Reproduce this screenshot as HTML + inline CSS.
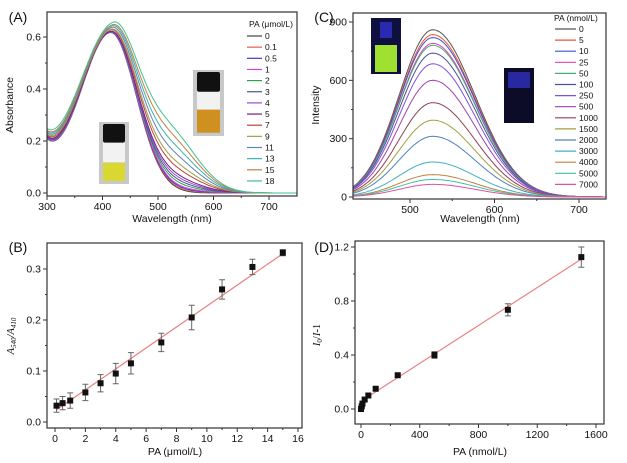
<!DOCTYPE html>
<html><head><meta charset="utf-8">
<style>
body{margin:0;background:#fff;}
svg{display:block;font-family:"Liberation Sans",Arial,sans-serif;}
text{fill:#111;}
</style></head>
<body>
<svg id="fig" width="627" height="463" viewBox="0 0 627 463" xmlns="http://www.w3.org/2000/svg">
<g id="pA"></g>
<g id="pB"></g>
<g id="pC"></g>
<g id="pD"></g>
</svg>
<script>
// Panel A data
const aConc = ["0","0.1","0.5","1","2","3","4","5","7","9","11","13","15","18"];
const aPeak = [0.615,0.615,0.612,0.612,0.613,0.612,0.612,0.612,0.615,0.615,0.618,0.62,0.62,0.625];
const aBand = [0,0.005,0.01,0.015,0.025,0.035,0.045,0.055,0.08,0.1,0.13,0.16,0.19,0.22];
const aColors = ["#444","#e0604a","#3a3ad0","#e040e0","#30a050","#505090","#9050d0","#702080","#c04040","#a0a040","#6080c0","#40b0b0","#c08040","#40c090"];
const aXTicks = [300,400,500,600,700];
const aYTicks = [0.0,0.2,0.4,0.6];
// Panel B data
const bX = [0.1,0.5,1,2,3,4,5,7,9,11,13,15];
const bY = [0.032,0.037,0.042,0.058,0.076,0.095,0.115,0.156,0.205,0.26,0.304,0.332];
const bErr = [0.013,0.013,0.015,0.016,0.017,0.02,0.021,0.018,0.024,0.019,0.015,0.006];
const bFit = [[0.1,0.024],[15,0.33]];
const bXTicks = [0,2,4,6,8,10,12,14,16];
const bYTicks = [0.0,0.1,0.2,0.3];
// Panel C data
const cConc = ["0","5","10","25","50","100","250","500","1000","1500","2000","3000","4000","5000","7000"];
const cPeak = [860,835,820,790,780,740,685,600,485,395,312,180,115,90,65];
const cColors = ["#555","#f05030","#4050d0","#e040c0","#40b070","#505090","#8050e0","#a040b0","#904050","#a0a040","#5080c0","#40b0c0","#c08040","#40c0a0","#e050a0"];
const cXTicks = [500,600,700];
const cYTicks = [0,300,600,900];
// Panel D data
const dX = [0,5,10,25,50,100,250,500,1000,1500];
const dY = [0,0.02,0.04,0.07,0.1,0.15,0.25,0.4,0.735,1.125];
const dErr = [0.01,0.01,0.01,0.01,0.01,0.01,0.01,0.025,0.045,0.075];
const dFit = [[25,0.075],[1500,1.11]];
const dXTicks = [0,400,800,1200,1600];
const dYTicks = [0.0,0.4,0.8,1.2];

const NS="http://www.w3.org/2000/svg";
function mk(parent,tag,attrs,txt){const e=document.createElementNS(NS,tag);for(const k in attrs)e.setAttribute(k,attrs[k]);if(txt!==undefined)e.textContent=txt;parent.appendChild(e);return e;}
function lin(d0,d1,r0,r1){return v=>r0+(v-d0)*(r1-r0)/(d1-d0);}

function axes(g,L,R,T,B,sx,sy,xt,yt,xfmt,yfmt){
  const box=mk(g,'rect',{x:L,y:T,width:R-L,height:B-T,fill:'none',stroke:'#333','stroke-width':1.2});
  
  
  xt.forEach(v=>{const x=sx(v);
    const t=mk(g,'line',{x1:x,x2:x,y1:B,y2:B+4,stroke:'#333'});
    
    const l=mk(g,'text',{x:x,y:B+14,'font-size':10.5,'text-anchor':'middle'},xfmt(v));
    });
  yt.forEach(v=>{const y=sy(v);
    const t=mk(g,'line',{x1:L-4,x2:L,y1:y,y2:y,stroke:'#333'});
    
    const l=mk(g,'text',{x:L-6,y:y+3.5,'font-size':10.5,'text-anchor':'end'},yfmt(v));
    });
  for(let i=0;i<xt.length-1;i++){const v=(xt[i]+xt[i+1])/2,x=sx(v);if(x<R){const m=mk(g,'line',{x1:x,x2:x,y1:B,y2:B+2,stroke:'#333'});}}
  for(let i=0;i<yt.length-1;i++){const v=(yt[i]+yt[i+1])/2,y=sy(v);const m=mk(g,'line',{x1:L-2,x2:L,y1:y,y2:y,stroke:'#333'});}
}
function label(g,x,y,s,name,rot,size){const a={x:x,y:y,'font-size':size||10.5,'text-anchor':'middle'};if(rot)a.transform=`rotate(-90 ${x} ${y})`;const t=mk(g,'text',a,s);return t;}
function vial(g,x,y,w,h,cap,body,liquid,liqTop,name){
  const gg=mk(g,'g',{});
  mk(gg,'rect',{x:x,y:y,width:w,height:h,fill:body});
  mk(gg,'rect',{x:x+4,y:y+h*0.3,width:w-8,height:h*0.35,fill:'#f2f2f2'});
  mk(gg,'rect',{x:x+4,y:y+2,width:w-8,height:h*0.3,fill:cap,rx:2});
  mk(gg,'rect',{x:x+4,y:y+h*liqTop,width:w-8,height:h*(0.95-liqTop),fill:liquid});
}

// ---------- Panel A ----------
(function(){
 const g=document.getElementById('pA');
 const L=47,R=297,T=12,B=196;
 const sx=lin(300,700,47,269), sy=lin(0,0.6,193,37);
 label(g,18,22,'(A)','panel-label-a',false,14);
 const clip=mk(g,'clipPath',{id:'clipA'});mk(clip,'rect',{x:L,y:T,width:R-L,height:B-T});
 vial(g,99,122,30,62,'#111','#c8c8c8','#d8d830',0.66,'inset-vial-yellow');
 vial(g,193,70,31,66,'#111','#c8c8c8','#d09020',0.6,'inset-vial-orange');
 aConc.forEach((c,i)=>{
  const cv=parseFloat(c), sl=54+8*cv/18;
  let d='';
  for(let w=300;w<=750;w+=2){
   const dd=w-415-3*cv/18;
   const s=dd<0?sl:46;
   let v=aPeak[i]*Math.exp(-dd*dd/(2*s*s))+0.146*Math.exp(-(w-300)/32)+aBand[i]*Math.exp(-(w-520)*(w-520)/(2*50*50));
   d+=(w===300?'M':'L')+sx(w).toFixed(1)+','+sy(v).toFixed(1);
  }
  const p=mk(g,'path',{d:d,fill:'none',stroke:aColors[i],'stroke-width':1,'clip-path':'url(#clipA)'});
  
 });
 axes(g,L,R,T,B,sx,sy,aXTicks,aYTicks,v=>String(v),v=>v.toFixed(1));
 label(g,172,222,'Wavelength (nm)','x-axis-title');
 label(g,13,105,'Absorbance','y-axis-title',true);
 const lg=mk(g,'g',{});
 mk(lg,'text',{x:249,y:27,'font-size':8.5},'PA (μmol/L)');
 aConc.forEach((c,i)=>{const y=36+i*11.15;
  const l=mk(lg,'line',{x1:247,x2:262,y1:y,y2:y,stroke:aColors[i],'stroke-width':1.2});
  
  const t=mk(lg,'text',{x:265,y:y+3,'font-size':8.5},c);
  });
})();

// ---------- Panel C ----------
(function(){
 const g=document.getElementById('pC');
 const L=353,R=606,T=13,B=199;
 const sx=lin(500,700,410,579), sy=lin(0,900,197,22);
 label(g,324,22,'(C)','panel-label-c',false,14);
 const clip=mk(g,'clipPath',{id:'clipC'});mk(clip,'rect',{x:L,y:T,width:R-L,height:B-T});
 const v1=mk(g,'g',{});
 mk(v1,'rect',{x:371,y:18,width:30,height:56,fill:'#101040'});
 mk(v1,'rect',{x:375,y:45,width:22,height:27,fill:'#a0e030'});
 mk(v1,'rect',{x:380,y:22,width:12,height:16,fill:'#2a2ab0'});
 const v2=mk(g,'g',{});
 mk(v2,'rect',{x:504,y:68,width:30,height:55,fill:'#0c0c28'});
 mk(v2,'rect',{x:508,y:72,width:22,height:16,fill:'#2828a0'});
 cConc.forEach((c,i)=>{
  let d='';
  for(let w=433;w<=732;w+=2){
   const dd=w-527, s=dd<0?40:50;
   const v=cPeak[i]*Math.exp(-dd*dd/(2*s*s));
   d+=(w===433?'M':'L')+sx(w).toFixed(1)+','+sy(v).toFixed(1);
  }
  const p=mk(g,'path',{d:d,fill:'none',stroke:cColors[i],'stroke-width':1,'clip-path':'url(#clipC)'});
  
 });
 axes(g,L,R,T,B,sx,sy,cXTicks,cYTicks,v=>String(v),v=>String(v));
 label(g,480,222,'Wavelength (nm)','x-axis-title');
 label(g,319,105,'Intensity','y-axis-title',true);
 const lg=mk(g,'g',{});
 mk(lg,'text',{x:554,y:21,'font-size':8.5},'PA (nmol/L)');
 cConc.forEach((c,i)=>{const y=29+i*11.1;
  const l=mk(lg,'line',{x1:555,x2:576,y1:y,y2:y,stroke:cColors[i],'stroke-width':1.2});
  
  const t=mk(lg,'text',{x:579,y:y+3,'font-size':8.5},c);
  });
})();

// ---------- Scatter panels ----------
function scatter(id,L,R,T,B,sx,sy,xs,ys,errs,fit,xt,yt,xf,yf,pl,plx,ply,xtitle,xtx){
 const g=document.getElementById(id);
 label(g,plx,ply,pl,'panel-label',false,14);
 const fl=mk(g,'line',{x1:sx(fit[0][0]),y1:sy(fit[0][1]),x2:sx(fit[1][0]),y2:sy(fit[1][1]),stroke:'#e88080','stroke-width':1.2});
 
 xs.forEach((x,i)=>{
  const px=sx(x),py=sy(ys[i]),e1=sy(ys[i]+errs[i]),e2=sy(ys[i]-errs[i]);
  const eb=mk(g,'path',{d:`M${px},${e1}V${e2}M${px-3},${e1}H${px+3}M${px-3},${e2}H${px+3}`,stroke:'#666','stroke-width':1,fill:'none'});
  
  const pt=mk(g,'rect',{x:px-3,y:py-3,width:6,height:6,fill:'#111'});
  
 });
 axes(g,L,R,T,B,sx,sy,xt,yt,xf,yf);
 label(g,xtx,455,xtitle,'x-axis-title');
 return g;
}
(function(){
 const g=scatter('pB',47,302,243,428,lin(0,16,55,298),lin(0,0.3,422,269),bX,bY,bErr,bFit,bXTicks,bYTicks,v=>String(v),v=>v.toFixed(1),'(B)',18,252,'PA (μmol/L)',175);
 const t=mk(g,'text',{x:14,y:336,'font-size':10.5,'text-anchor':'middle','font-style':'italic','font-family':'Liberation Serif, serif',transform:'rotate(-90 14 336)'});
 
 t.innerHTML='A<tspan font-size="7" dy="2">540</tspan><tspan dy="-2">/A</tspan><tspan font-size="7" dy="2">410</tspan>';
})();
(function(){
 const g=scatter('pD',355,604,241,424,lin(0,1600,361,596),lin(0,1.2,409,247),dX,dY,dErr,dFit,dXTicks,dYTicks,v=>String(v),v=>v.toFixed(1),'(D)',324,252,'PA (nmol/L)',480);
 const t=mk(g,'text',{x:320,y:335,'font-size':10.5,'text-anchor':'middle','font-family':'Liberation Serif, serif',transform:'rotate(-90 320 335)'});
 
 t.innerHTML='<tspan font-style="italic">I</tspan><tspan font-size="7" dy="2">0</tspan><tspan dy="-2">/</tspan><tspan font-style="italic">I</tspan>-1';
})();
</script>
</body></html>
